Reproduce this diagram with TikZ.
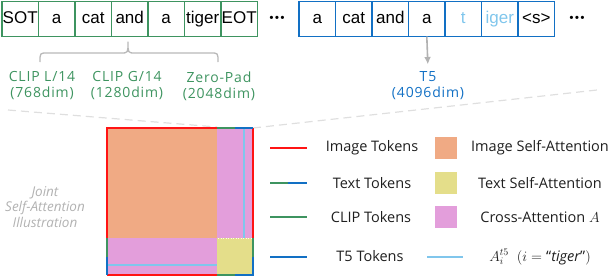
\documentclass[tikz,border=0pt]{standalone}
\usepackage{amsmath}
\usepackage{fontspec}
\setmainfont{Open Sans}
\newfontfamily\tokfont{Liberation Sans}
\newfontfamily\dimfont[LetterSpace=6]{Open Sans}
\usetikzlibrary{arrows.meta,positioning}
\definecolor{clipgreen}{RGB}{62,148,96}
\definecolor{tfblue}{RGB}{18,112,196}
\definecolor{tigerblue}{RGB}{128,198,236}
\definecolor{imgred}{RGB}{255,20,20}
\definecolor{imgorange}{RGB}{240,170,132}
\definecolor{crosspink}{RGB}{227,158,219}
\definecolor{textyellow}{RGB}{228,222,138}
\definecolor{softgray}{RGB}{178,178,178}
\tikzset{
  tok/.style={draw,line width=1.7pt,minimum width=36.5pt,minimum height=35pt,
    inner sep=0pt,outer sep=0pt,text height=12.5pt,text depth=3.5pt,
    font=\tokfont\fontsize{17}{17}\selectfont},
  tokclip/.style={tok,draw=clipgreen},
  tokfive/.style={tok,draw=tfblue},
  moredots/.style={font=\tokfont\bfseries\fontsize{11}{11}\selectfont,inner sep=0pt},
  imgborder/.style={line width=2pt,draw=imgred},
  clipborder/.style={line width=2pt,draw=clipgreen},
  fiveborder/.style={line width=2pt,draw=tfblue},
  tigerline/.style={line width=2pt,draw=tigerblue},
  legbox/.style={minimum width=22pt,minimum height=22pt,inner sep=0pt}
}

\begin{document}
\begin{tikzpicture}[
  x=1pt,y=-1pt,
  cliplabel/.style={
    font=\dimfont\fontsize{14}{16}\selectfont,
    align=center,
    text=clipgreen
  },
  fivelabel/.style={
    font=\dimfont\fontsize{14}{16}\selectfont,
    align=center,
    text=tfblue
  },
  legtext/.style={
    font=\fontsize{14.5}{16}\selectfont,
    text=black!88
  },
  jointlabel/.style={
    font=\itshape\fontsize{13.5}{15.5}\selectfont,
    align=center,
    text=softgray
  },
  bracegray/.style={
    line width=1.3pt,
    draw=gray!55,
    line join=round
  },
  zoomline/.style={
    line width=1.2pt,
    draw=gray!25,
    dash pattern=on 8pt off 5pt
  },
  downarr/.style={
    -{Latex[length=2.6mm,width=2.4mm]},
    line width=1.6pt,
    draw=gray!60
  }
]
\useasboundingbox (0,0) rectangle (610,276);

% CLIP token row
\node[tokclip] (c1) at (20.2,19) {SOT};
\node[tokclip,right=0pt of c1] (c2) {a};
\node[tokclip,right=0pt of c2] (c3) {cat};
\node[tokclip,right=0pt of c3] (c4) {and};
\node[tokclip,right=0pt of c4] (c5) {a};
\node[tokclip,right=0pt of c5] (c6) {tiger};
\node[tokclip,right=0pt of c6] (c7) {EOT};
\node[moredots] (cdots) at (277,19) {•\kern1.6pt•\kern1.6pt•};

% T5 token row
\node[tokfive] (t1) at (317.3,19) {a};
\node[tokfive,right=0pt of t1] (t2) {cat};
\node[tokfive,right=0pt of t2] (t3) {and};
\node[tokfive,right=0pt of t3] (t4) {a};
\node[tokfive,right=0pt of t4,text=tigerblue] (t5) {t};
\node[tokfive,right=0pt of t5,text=tigerblue] (t6) {iger};
\node[tokfive,right=0pt of t6] (t7) {<s>};
\node[moredots] (tdots) at (577,19) {•\kern1.6pt•\kern1.6pt•};

% brace and encoders
\coordinate (braceL)   at (40,62);
\coordinate (braceR)   at (218,62);
\coordinate (braceTip) at (128,42);
\draw[bracegray] (braceL) .. controls (40,53) .. (47,53) -- (121,53)
  .. controls (128,53) .. (braceTip) .. controls (128,53) .. (135,53)
  -- (211,53) .. controls (218,53) .. (braceR);

\node[cliplabel] (clipL) at (42,86) {CLIP L/14\\(768dim)};
\node[cliplabel] (clipG) at (127,86) {CLIP G/14\\(1280dim)};
\node[cliplabel] (zpad)  at (219,86) {Zero-Pad\\(2048dim)};
\node[fivelabel] (tfive) at (428,86) {T5\\(4096dim)};
\draw[downarr,shorten >=4pt] (t4.south) -- (tfive.north);

% attention map
\coordinate (mTL)  at (107,128);
\coordinate (mTR)  at (253,128);
\coordinate (mCut) at (217,127);
\coordinate (zoomL) at (8,110);
\coordinate (zoomR) at (597,90);
\draw[zoomline] (zoomL) -- (mCut);
\draw[zoomline] (mTR) -- (zoomR);

\fill[imgorange]  (107,128) rectangle (217,238);
\fill[crosspink]  (217,128) rectangle (253,238);
\fill[crosspink]  (107,238) rectangle (217,275);
\fill[textyellow] (217,238) rectangle (253,275);
\draw[white!85!textyellow,line width=1pt,dash pattern=on 1pt off 1.5pt] (218,238.5) -- (252,238.5);
\draw[tigerline] (244,128) -- (244,238);
\draw[tigerline] (107,265) -- (217,265);

\draw[imgborder] (217,128) -- (mTL) -- (107,238);
\draw[imgborder] (mTR) -- (253,238);
\draw[imgborder] (107,275) -- (217,275);
\draw[clipborder] (217,128) -- (235,128);
\draw[clipborder] (253,238) -- (253,257);
\draw[clipborder] (217,275) -- (235,275);
\draw[clipborder] (107,238) -- (107,257);
\draw[fiveborder] (235,128) -- (mTR);
\draw[fiveborder] (253,257) -- (253,275) -- (235,275);
\draw[fiveborder] (107,257) -- (107,275);

\node[jointlabel] (joint) at (45,207) {Joint\\Self-Attention\\Illustration};

% legend
\coordinate (lgA) at (270,148); \coordinate (lgAe) at (307,148);
\coordinate (lgB) at (270,183); \coordinate (lgBm) at (288,183); \coordinate (lgBe) at (307,183);
\coordinate (lgC) at (270,217); \coordinate (lgCe) at (307,217);
\coordinate (lgD) at (270,257); \coordinate (lgDe) at (307,257);
\draw[imgborder] (lgA) -- (lgAe);
\draw[clipborder] (lgB) -- (lgBm);
\draw[fiveborder] (lgBm) -- (lgBe);
\draw[clipborder] (lgC) -- (lgCe);
\draw[fiveborder] (lgD) -- (lgDe);
\node[legtext] (imgtok)  at (372,148) {Image Tokens};
\node[legtext] (texttok) at (372,183) {Text Tokens};
\node[legtext] (cliptok) at (371,217) {CLIP Tokens};
\node[legtext] (fivetok) at (370,256) {T5 Tokens};

\node[legbox,fill=imgorange]  (sqimg)   at (446,148) {};
\node[legbox,fill=textyellow] (sqtext)  at (446,183) {};
\node[legbox,fill=crosspink]  (sqcross) at (446,217) {};
\coordinate (lgE) at (427,257); \coordinate (lgEe) at (463,257);
\draw[tigerline] (lgE) -- (lgEe);
\node[legtext] (imgatt)   at (540,148) {Image Self-Attention};
\node[legtext] (textatt)  at (540,183) {Text Self-Attention};
\node[legtext] (crossatt) at (540,217) {Cross-Attention $A$};
\node[legtext] (tigeratt) at (540,257) {$A_i^{t5}\;\;(i=\text{“}\mathit{tiger}\text{”})$};
\end{tikzpicture}
\end{document}
